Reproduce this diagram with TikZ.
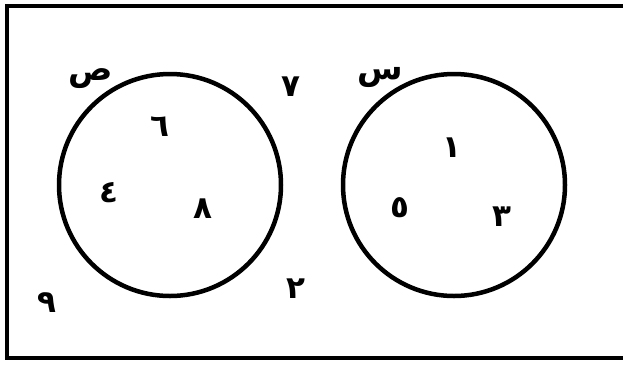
\documentclass[tikz,border=0pt]{standalone}
\usepackage{fontspec}
\TeXXeTstate=1
\newfontfamily\arabicfont[Script=Arabic]{DejaVu Sans}
\usetikzlibrary{positioning}

\begin{document}
\begin{tikzpicture}[
  x=1pt, y=-1pt,
  set/.style={draw, circle, line width=4.5pt, minimum size=222pt, inner sep=0pt},
  elem/.style={font=\arabicfont\bfseries\fontsize{31}{36}\selectfont, inner sep=0pt},
  setname/.style={elem, font=\arabicfont\bfseries\fontsize{33}{38}\selectfont},
]
\useasboundingbox (0,0) rectangle (623,365);
\clip (0,0) rectangle (623,365);

% universal set
\draw[line width=4.5pt] (7,6) rectangle (650,358);

% the two sets
\node[set] (Y) at (170,185) {};
\node[set] (X) at (454,185) {};

\node[setname] (Yname) at (91,79) {\beginR ص\endR};
\node[setname] (Xname) at (380,77) {\beginR س\endR};

% elements of Y
\node[elem] (e6) at (160,127) {\beginR ٦\endR};
\node[elem] (e4) at (109,193) {\beginR ٤\endR};
\node[elem] (e8) at (203,209) {\beginR ٨\endR};

% elements of X
\node[elem] (e1) at (452,148) {\beginR ١\endR};
\node[elem] (e5) at (400,208) {\beginR ٥\endR};
\node[elem] (e3) at (502,217) {\beginR ٣\endR};

% outside both
\node[elem] (e7) at (291,87) {\beginR ٧\endR};
\node[elem] (e2) at (296,289) {\beginR ٢\endR};
\node[elem] (e9) at (47,303) {\beginR ٩\endR};
\end{tikzpicture}
\end{document}
